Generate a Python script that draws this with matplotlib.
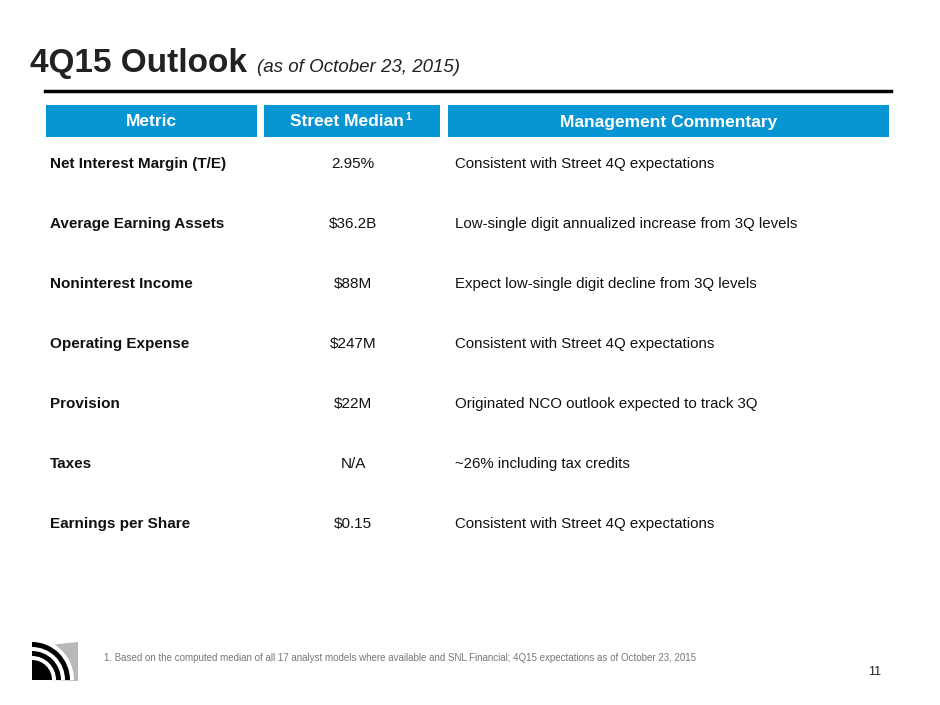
import matplotlib
matplotlib.use("Agg")
from matplotlib import pyplot as plt
from matplotlib.patches import Rectangle, Wedge, Polygon

plt.rcParams['font.family'] = ['Liberation Sans', 'DejaVu Sans']

headers = ["Metric", "Street Median", "Management Commentary"]
metrics = ["Net Interest Margin (T/E)", "Average Earning Assets", "Noninterest Income",
           "Operating Expense", "Provision", "Taxes", "Earnings per Share"]
medians = ["2.95%", "$36.2B", "$88M", "$247M", "$22M", "N/A", "$0.15"]
comments = ["Consistent with Street 4Q expectations",
            "Low-single digit annualized increase from 3Q levels",
            "Expect low-single digit decline from 3Q levels",
            "Consistent with Street 4Q expectations",
            "Originated NCO outlook expected to track 3Q",
            "~26% including tax credits",
            "Consistent with Street 4Q expectations"]
footnote = ("1. Based on the computed median of all 17 analyst models where available and SNL Financial; "
            "4Q15 expectations as of October 23, 2015")

blue = "#0796d3"
fig = plt.figure(figsize=(9.4, 7.05), dpi=100)
ax = fig.add_axes([0, 0, 1, 1])
ax.set_xlim(0, 940)
ax.set_ylim(705, 0)
ax.axis("off")

ax.text(30, 72, "4Q15 Outlook", fontsize=24, fontweight="bold", color="#222222", va="baseline")
ax.text(257, 72, "(as of October 23, 2015)", fontsize=13.5, style="italic", color="#222222", va="baseline")
ax.plot([45, 891], [91, 91], color="black", lw=2.5)

cols = [(46, 257), (264, 440), (448, 889)]
for (x0, x1), h in zip(cols, headers):
    cx = (x0 + x1) / 2 - (5 if h == "Street Median" else 0)
    ax.add_patch(Rectangle((x0, 105), x1 - x0, 32, color=blue, lw=0))
    ax.text(cx, 122, h, color="white", fontsize=12.5, fontweight="bold",
            ha="center", va="center")
ax.text(405, 117, "1", color="white", fontsize=7.5, fontweight="bold", ha="left", va="center")

for i, (m, v, c) in enumerate(zip(metrics, medians, comments)):
    y = 164 + 60 * i
    ax.text(50, y, m, fontsize=11, fontweight="bold", color="#111111", va="center")
    ax.text(353, y, v, fontsize=11, color="#111111", va="center", ha="center")
    ax.text(455, y, c, fontsize=10.8, color="#111111", va="center")

ax.text(104, 658, footnote, fontsize=7, color="#777777", va="center")
ax.text(868, 672, "11", fontsize=9, color="#222222", va="center")

# logo
ax.add_patch(Polygon([[50, 645], [78, 642], [78, 681], [50, 680]], closed=True, color="#b8b8b8", lw=0))
for r, col in [(42, "white"), (38, "black"), (33, "white"), (29, "black"), (24, "white"), (20, "black")]:
    ax.add_patch(Wedge((32, 680), r, 270, 360, color=col, lw=0))
ax.add_patch(Rectangle((28, 640), 4, 42, color="white", lw=0))

fig.savefig("out.png", dpi=100)
